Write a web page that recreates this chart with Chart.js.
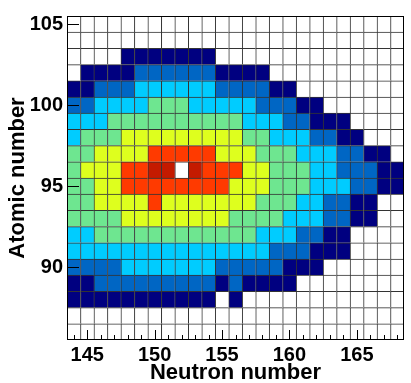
<!DOCTYPE html>
<html>
<head>
<meta charset="utf-8">
<script src="https://cdn.jsdelivr.net/npm/chart.js@4.4.0/dist/chart.umd.min.js"></script>
<style>
  html, body { margin: 0; padding: 0; background: #fff; }
  #wrap { width: 411px; height: 383px; }
</style>
</head>
<body>
<div id="wrap"><canvas id="myChart"></canvas></div>
<script>
// x bins (neutron number) and y bins (atomic number, top row first)
const neutronNumbers = [144, 145, 146, 147, 148, 149, 150, 151, 152, 153, 154, 155, 156,
  157, 158, 159, 160, 161, 162, 163, 164, 165, 166, 167, 168];
const atomicNumbers = [105, 104, 103, 102, 101, 100, 99, 98, 97, 96, 95, 94, 93, 92, 91, 90, 89, 88, 87, 86];
const xTickValues = [145, 150, 155, 160, 165];
const yTickValues = [90, 95, 100, 105];

// colour level of every cell, one string per atomic number (0 = empty)
const levels = [
  "0000000000000000000000000",
  "0000000000000000000000000",
  "0000111111100000000000000",
  "0111122222211110000000000",
  "1122233333322221100000000",
  "2233334443333322211000000",
  "3334444444444333221110000",
  "3444555555555443332211000",
  "4455556666655544433322110",
  "4555667707666554443322211",
  "4455666666665554443332211",
  "4455556555555544433221100",
  "4444555555554444333221100",
  "3344444444444433322110000",
  "3333333333333332221110000",
  "2222333333322222111000000",
  "1122222222212111100000000",
  "1111111111101000000000000",
  "0000000000000000000000000",
  "0000000000000000000000000"
];

const levelColors = ['#ffffff', '#000080', '#0066c4', '#00ccff', '#6ee690', '#deff1e', '#ff3a00', '#c41a00'];

const cells = [];
atomicNumbers.forEach((z, i) => {
  neutronNumbers.forEach((n, j) => {
    cells.push({ x: n, y: [z - 0.5, z + 0.5], level: Number(levels[i][j]) });
  });
});

// frame and the small inside ticks (ROOT style)
const frameTicks = {
  id: 'frameTicks',
  afterDatasetsDraw(chart) {
    const { ctx, chartArea: a, scales } = chart;
    ctx.save();
    ctx.strokeStyle = '#000';
    ctx.lineWidth = 1;
    ctx.beginPath();
    neutronNumbers.forEach(n => {
      const px = Math.round(scales.x.getPixelForValue(n)) + 0.5;
      const len = xTickValues.includes(n) ? 10 : 5;
      ctx.moveTo(px, a.bottom);
      ctx.lineTo(px, a.bottom - len);
    });
    yTickValues.forEach(z => {
      const py = Math.round(scales.y.getPixelForValue(z)) + 0.5;
      ctx.moveTo(a.left, py);
      ctx.lineTo(a.left + 12, py);
    });
    ctx.stroke();
    ctx.strokeRect(Math.round(a.left) + 0.5, Math.round(a.top) + 0.5,
      Math.round(a.right - a.left) - 1, Math.round(a.bottom - a.top) - 1);
    ctx.restore();
  }
};

const font = { family: 'Liberation Sans', weight: 'bold' };

new Chart(document.getElementById('myChart'), {
  type: 'bar',
  data: {
    datasets: [{
      data: cells,
      backgroundColor: c => levelColors[c.raw.level],
      borderColor: '#333',
      borderWidth: { top: 1, left: 1, right: 0, bottom: 0 },
      borderSkipped: false,
      barPercentage: 1,
      categoryPercentage: 1,
      grouped: false
    }]
  },
  options: {
    responsive: true,
    maintainAspectRatio: false,
    animation: false,
    events: [],
    layout: { padding: { top: 4, right: 7, left: 0, bottom: 0 } },
    plugins: { legend: { display: false }, tooltip: { enabled: false } },
    scales: {
      x: {
        type: 'linear',
        offset: false,
        min: 143.5,
        max: 168.5,
        afterBuildTicks: s => { s.ticks = xTickValues.map(v => ({ value: v })); },
        afterFit: s => { s.height = 43; },
        grid: { display: false, drawTicks: false, offset: false },
        border: { display: false },
        ticks: { color: '#000', padding: 3, maxRotation: 0, font: { ...font, size: 20 } },
        title: {
          display: true, text: 'Neutron number', color: '#000',
          padding: { top: 0, bottom: -3 }, font: { ...font, size: 22 }
        }
      },
      y: {
        type: 'linear',
        min: 85.5,
        max: 105.5,
        afterBuildTicks: s => { s.ticks = yTickValues.map(v => ({ value: v })); },
        afterFit: s => { s.width = 67; },
        grid: { display: false, drawTicks: false },
        border: { display: false },
        ticks: { color: '#000', padding: 4, font: { ...font, size: 20 } },
        title: {
          display: true, text: 'Atomic number', color: '#000',
          padding: { top: 5, bottom: 0 }, font: { ...font, size: 22 }
        }
      }
    }
  },
  plugins: [frameTicks]
});
</script>
</body>
</html>
